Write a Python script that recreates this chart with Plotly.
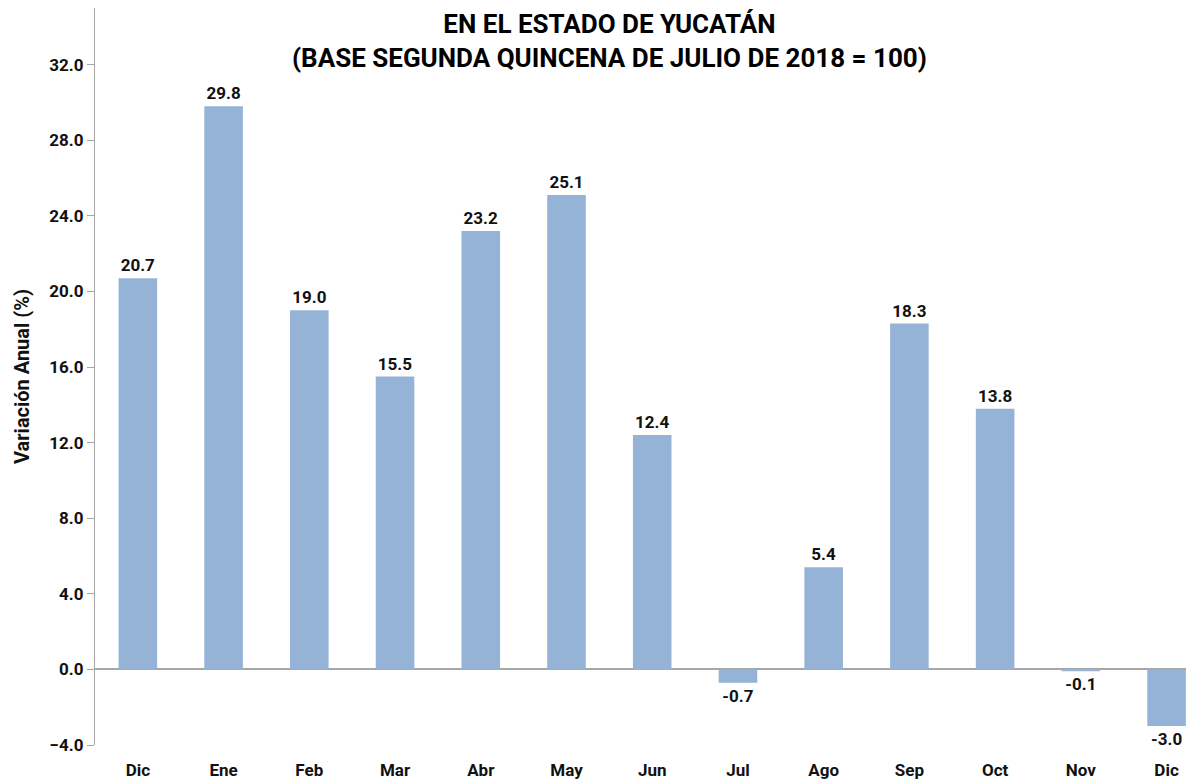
import plotly.graph_objects as go

months = ["Dic", "Ene", "Feb", "Mar", "Abr", "May", "Jun", "Jul", "Ago", "Sep", "Oct", "Nov", "Dic"]
variacion = [20.7, 29.8, 19.0, 15.5, 23.2, 25.1, 12.4, -0.7, 5.4, 18.3, 13.8, -0.1, -3.0]
title_lines = ["EN EL ESTADO DE YUCATÁN", "(BASE SEGUNDA QUINCENA DE JULIO DE 2018 = 100)"]

pos = list(range(len(months)))
bold = dict(family="Roboto", color="#111111", weight="bold")

fig = go.Figure(
    go.Bar(
        x=pos,
        y=variacion,
        marker=dict(color="#95B3D7", line=dict(width=0)),
        texttemplate="%{y:.1f}",
        textposition="outside",
        textfont=dict(size=17, **bold),
        cliponaxis=False,
        width=0.45,
    )
)

# page body keeps the browser's 8px margin, so the figure is 8px smaller
fig.update_layout(
    width=1186,
    height=776,
    plot_bgcolor="white",
    paper_bgcolor="white",
    margin=dict(l=87, r=0, t=0, b=39, autoexpand=False),
    showlegend=False,
)

# title sits inside the plot area, hung from its top edge
fig.add_annotation(
    text="<br>".join(title_lines), xref="paper", yref="paper", x=0.4686, y=1.0,
    xanchor="center", yanchor="top", showarrow=False, borderpad=0,
    font=dict(family="Roboto", size=26, color="black", weight="bold"),
)

fig.update_xaxes(
    tickvals=pos,
    ticktext=months,
    range=[-0.5, 12.32],
    showline=False,
    ticks="",
    ticklabelstandoff=13,
    tickfont=dict(size=17, **bold),
    showgrid=False,
    zeroline=False,
    automargin=False,
)

fig.update_yaxes(
    range=[-4, 35],
    tick0=0,
    dtick=4,
    tickformat=".1f",
    showgrid=False,
    showline=True,
    linecolor="#A6A6A6",
    linewidth=1.3,
    ticks="outside",
    ticklen=7,
    tickcolor="#A6A6A6",
    zeroline=True,
    zerolinecolor="#A6A6A6",
    zerolinewidth=1.5,
    tickfont=dict(size=17, **bold),
    automargin=False,
    title=dict(text="Variación Anual (%)", standoff=14,
               font=dict(size=20, **bold)),
)

fig.write_html("out.html")
